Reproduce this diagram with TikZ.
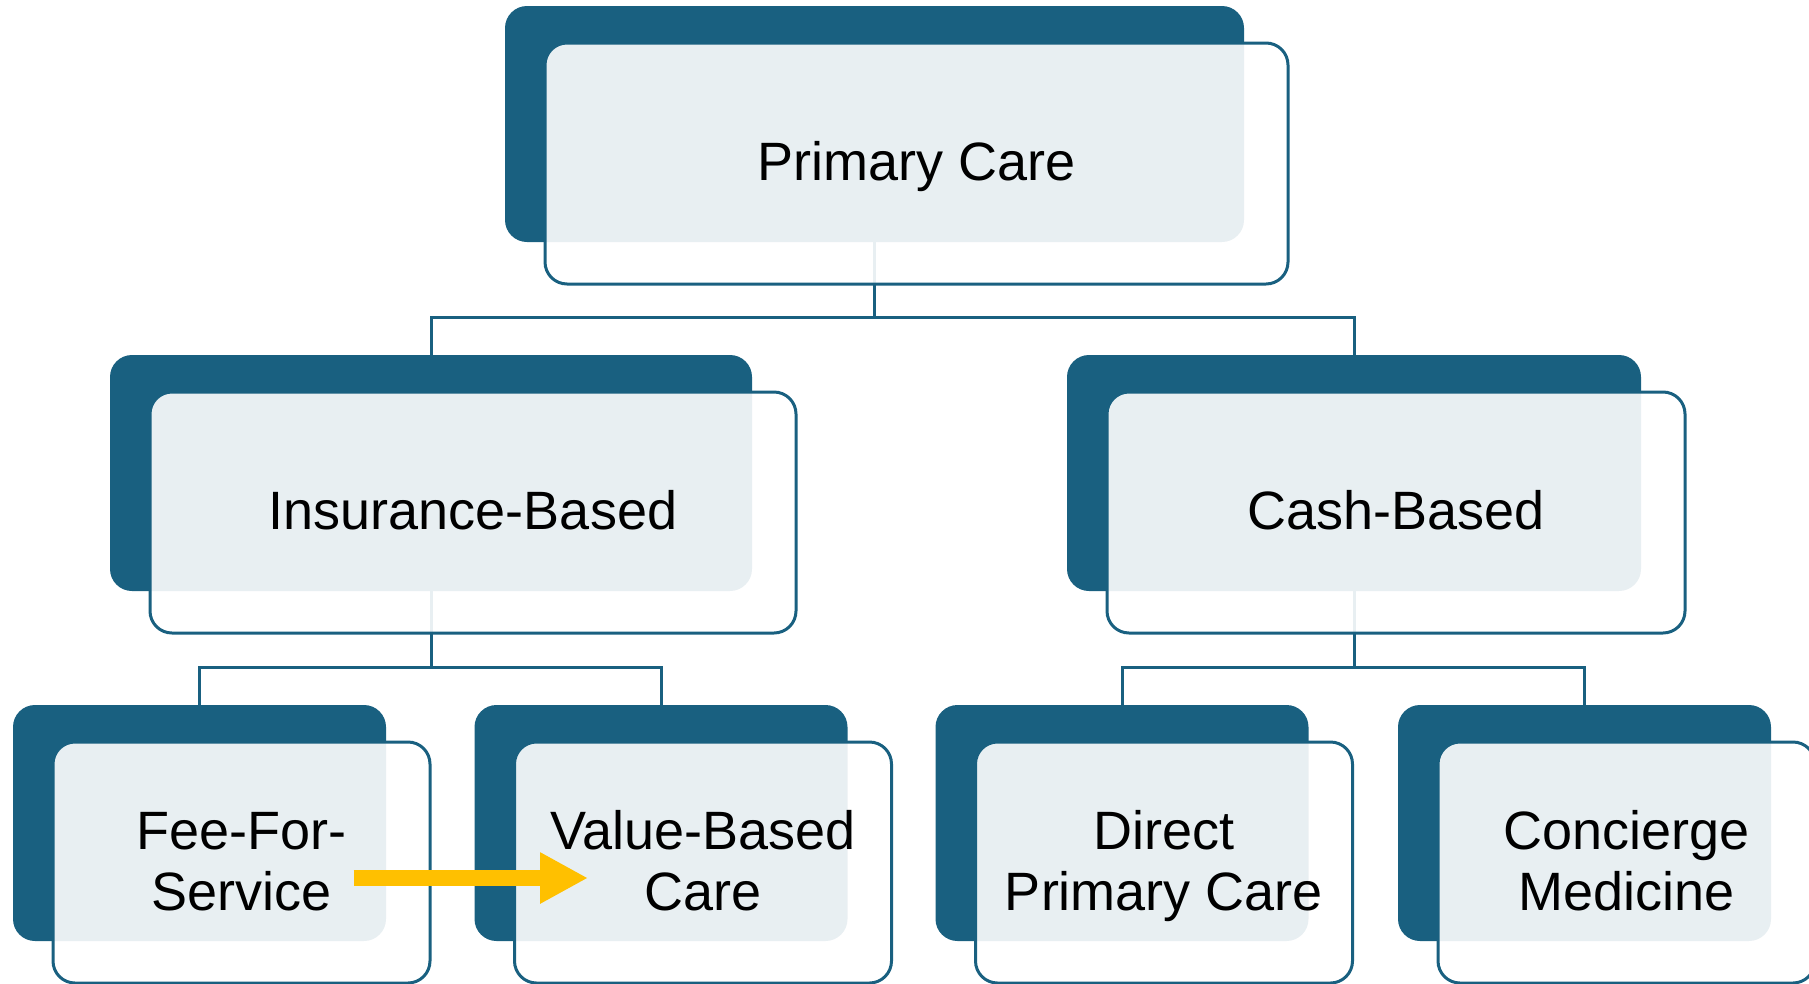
\documentclass[tikz,border=0pt]{standalone}
\usepackage{fontspec}
\setmainfont{Liberation Sans}
\usepackage{tikz}
\usetikzlibrary{arrows.meta}

\definecolor{boxblue}{RGB}{25,96,128}
\definecolor{arrowgold}{RGB}{255,192,0}
\newcommand\boxstrut{\rule[-13.2pt]{0pt}{61pt}}

\begin{document}
\begin{tikzpicture}[x=1pt, y=-1pt,
    backbox/.style={fill=boxblue, rounded corners=22pt, minimum height=236pt, inner sep=0pt},
    frontbox/.style={draw=boxblue, line width=3pt, fill=white, fill opacity=0.9, text opacity=1,
        rounded corners=22pt, minimum height=241pt, inner sep=0pt, align=center,
        font=\fontsize{54}{61}\selectfont, execute at end node=\boxstrut},
    link/.style={draw=boxblue, line width=3pt},
    shiftarrow/.style={draw=arrowgold, line width=16pt, -{Triangle[length=48pt, width=48pt]}}]
    \useasboundingbox (0,0) rectangle (1809,983);
    \node[backbox, minimum width=739pt] (topback) at (874.5,124) {};
    \node[backbox, minimum width=642pt] (insback) at (431,473) {};
    \node[backbox, minimum width=574pt] (cashback) at (1354,473) {};
    \node[backbox, minimum width=373pt] (feeback) at (199.5,823) {};
    \node[backbox, minimum width=373pt] (valueback) at (661,823) {};
    \node[backbox, minimum width=373pt] (directback) at (1122,823) {};
    \node[backbox, minimum width=373pt] (conciergeback) at (1584.5,823) {};
    \coordinate (topbar) at ([yshift=-75pt]topback.south);
    \coordinate (insbar) at ([yshift=-76pt]insback.south);
    \coordinate (cashbar) at ([yshift=-76pt]cashback.south);
    \draw[link] (topback.south) -- (topbar);
    \draw[link] (insback.north) |- (topbar) -| (cashback.north);
    \draw[link] (insback.south) -- (insbar);
    \draw[link] (feeback.north) |- (insbar) -| (valueback.north);
    \draw[link] (cashback.south) -- (cashbar);
    \draw[link] (directback.north) |- (cashbar) -| (conciergeback.north);
    \node[frontbox, minimum width=743pt] (primary) at ([shift={(42,39.5)}]topback.center) {Primary Care};
    \node[frontbox, minimum width=646pt] (insurance) at ([shift={(42,39.5)}]insback.center) {Insurance-Based};
    \node[frontbox, minimum width=578pt] (cash) at ([shift={(42,39.5)}]cashback.center) {Cash-Based};
    \node[frontbox, minimum width=377pt] (fee) at ([shift={(42,39.5)}]feeback.center) {\boxstrut Fee-For-\\Service};
    \node[frontbox, minimum width=377pt] (value) at ([shift={(42,39.5)}]valueback.center) {\boxstrut Value-Based\\Care};
    \node[frontbox, minimum width=377pt] (direct) at ([shift={(42,39.5)}]directback.center) {\boxstrut Direct\\Primary Care};
    \node[frontbox, minimum width=377pt] (concierge) at ([shift={(42,39.5)}]conciergeback.center) {\boxstrut Concierge\\Medicine};
    \draw[shiftarrow] ([shift={(-78,15.5)}]fee.east) -- ([shift={(75,15.5)}]value.west);
\end{tikzpicture}
\end{document}
